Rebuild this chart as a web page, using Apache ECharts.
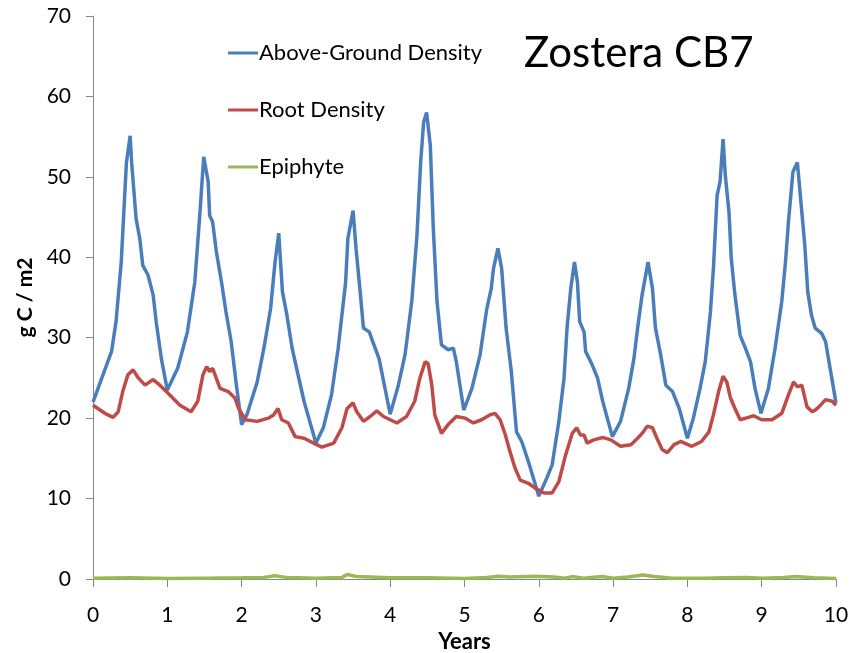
<!DOCTYPE html>
<html>
<head>
<meta charset="utf-8">
<script src="https://cdn.jsdelivr.net/npm/echarts@6/dist/echarts.min.js"></script>
<style>
  html, body { margin: 0; padding: 0; background: #fff; }
  #chart { width: 864px; height: 653px; }
</style>
</head>
<body>
<div id="chart"></div>
<script>
// [year, g C / m2]
const aboveGround = [
  [0, 22], [0.25, 28.3], [0.31, 32], [0.38, 39.4], [0.45, 51.8], [0.5, 55.1], [0.52, 51.8],
  [0.58, 44.8], [0.63, 42.3], [0.67, 39], [0.74, 37.8], [0.81, 35.3], [0.85, 32], [0.92, 27.4],
  [1.0, 23.5], [1.14, 26.2], [1.27, 30.7], [1.37, 36.9], [1.44, 45.6], [1.49, 52.5], [1.55, 49.4],
  [1.57, 45.2], [1.61, 44.4], [1.66, 40.7], [1.73, 36.9], [1.79, 33.2], [1.86, 29.5], [1.93, 24.1],
  [2.0, 19.2], [2.07, 20.4], [2.21, 24.5], [2.3, 28.7], [2.39, 33.6], [2.45, 39.4], [2.5, 43],
  [2.55, 35.7], [2.61, 32.8], [2.68, 28.7], [2.75, 25.8], [2.84, 22.1], [3.0, 16.9], [3.1, 18.8],
  [3.21, 22.9], [3.3, 28.7], [3.4, 36.9], [3.43, 42.3], [3.5, 45.8], [3.54, 41.1], [3.6, 35.3],
  [3.64, 31.2], [3.72, 30.7], [3.75, 29.9], [3.85, 27.4], [3.93, 23.7], [4.0, 20.5], [4.11, 24.1],
  [4.2, 27.9], [4.29, 34.5], [4.36, 42.7], [4.41, 51.8], [4.45, 56.8], [4.49, 58], [4.54, 53.9],
  [4.58, 43.6], [4.63, 34.5], [4.69, 29.1], [4.78, 28.5], [4.85, 28.7], [4.89, 27], [4.99, 21],
  [5.1, 23.7], [5.21, 27.9], [5.3, 33.6], [5.36, 36.1], [5.39, 38.6], [5.45, 41.1], [5.5, 38.6],
  [5.56, 31.2], [5.63, 25.8], [5.7, 18.3], [5.77, 17.1], [5.86, 14.6], [6.0, 10.3], [6.11, 12.6],
  [6.18, 14.2], [6.27, 19.6], [6.34, 25], [6.38, 31.2], [6.43, 36.1], [6.48, 39.4], [6.52, 36.9],
  [6.55, 32], [6.61, 30.7], [6.63, 28.3], [6.72, 26.6], [6.79, 25], [6.86, 22.1], [6.99, 17.7],
  [7.1, 19.6], [7.21, 23.7], [7.28, 27.4], [7.33, 31.2], [7.39, 35.3], [7.47, 39.4], [7.53, 36.1],
  [7.57, 31.2], [7.64, 27.9], [7.71, 24.1], [7.8, 23.3], [7.89, 21.2], [8.0, 17.5], [8.08, 20],
  [8.17, 23.7], [8.24, 27], [8.31, 33.2], [8.35, 38.6], [8.4, 47.7], [8.44, 49.4], [8.48, 54.7],
  [8.51, 50.2], [8.56, 45.6], [8.59, 39.9], [8.64, 35.3], [8.71, 30.3], [8.78, 28.7], [8.85, 27],
  [8.91, 23.7], [8.99, 20.6], [9.09, 23.7], [9.18, 28.7], [9.27, 34.5], [9.32, 39.4], [9.36, 44.4],
  [9.42, 50.6], [9.48, 51.8], [9.52, 47.7], [9.58, 41.5], [9.62, 35.7], [9.67, 32.8], [9.72, 31.2],
  [9.81, 30.5], [9.86, 29.5], [10, 21.9]
];

const rootDensity = [
  [0, 21.6], [0.16, 20.6], [0.27, 20.1], [0.34, 20.8], [0.4, 23.3], [0.47, 25.4], [0.54, 26],
  [0.61, 25], [0.7, 24.1], [0.81, 24.8], [0.9, 24.1], [1.01, 23.1], [1.17, 21.6], [1.32, 20.8],
  [1.41, 22.1], [1.48, 25.4], [1.53, 26.4], [1.57, 25.8], [1.61, 26.2], [1.71, 23.7], [1.82, 23.3],
  [1.91, 22.5], [1.96, 21.2], [2.05, 19.8], [2.21, 19.6], [2.36, 20], [2.43, 20.4], [2.49, 21.2],
  [2.54, 19.8], [2.63, 19.4], [2.72, 17.7], [2.84, 17.5], [2.97, 16.9], [3.08, 16.4], [3.24, 16.9],
  [3.35, 18.8], [3.42, 21.2], [3.5, 21.9], [3.55, 20.8], [3.64, 19.6], [3.73, 20.2], [3.82, 20.9],
  [3.91, 20.2], [4.0, 19.8], [4.09, 19.4], [4.22, 20.2], [4.33, 22.1], [4.4, 25], [4.47, 27],
  [4.51, 26.8], [4.56, 24.1], [4.6, 20.4], [4.69, 18.1], [4.78, 19.2], [4.89, 20.2], [5.01, 20],
  [5.12, 19.4], [5.23, 19.8], [5.34, 20.4], [5.41, 20.6], [5.48, 19.8], [5.55, 17.9], [5.61, 15.9],
  [5.68, 13.8], [5.75, 12.3], [5.86, 11.9], [5.95, 11.3], [6.07, 10.7], [6.18, 10.7], [6.27, 12.1],
  [6.36, 15.4], [6.45, 18.1], [6.51, 18.8], [6.56, 17.9], [6.61, 17.9], [6.65, 16.9], [6.74, 17.3],
  [6.86, 17.6], [6.97, 17.3], [7.1, 16.5], [7.24, 16.7], [7.33, 17.5], [7.39, 18.1], [7.46, 19],
  [7.53, 18.8], [7.59, 17.5], [7.66, 16.1], [7.73, 15.7], [7.82, 16.7], [7.91, 17.1], [8.06, 16.5],
  [8.19, 17.1], [8.29, 18.3], [8.35, 20.4], [8.42, 23.3], [8.48, 25.2], [8.53, 24.5], [8.58, 22.5],
  [8.64, 21.2], [8.71, 19.8], [8.82, 20.1], [8.89, 20.3], [9.0, 19.8], [9.14, 19.8], [9.27, 20.6],
  [9.36, 22.9], [9.43, 24.5], [9.48, 23.9], [9.54, 24.1], [9.61, 21.4], [9.68, 20.8], [9.72, 21],
  [9.77, 21.4], [9.86, 22.3], [9.95, 22.1], [10, 21.6]
];

const epiphyte = [
  [0, 0.1], [0.5, 0.15], [1, 0.05], [1.5, 0.1], [2, 0.15], [2.3, 0.2], [2.45, 0.4], [2.6, 0.2],
  [3, 0.1], [3.35, 0.2], [3.42, 0.55], [3.55, 0.3], [4, 0.15], [4.5, 0.15], [5, 0.05], [5.3, 0.2],
  [5.45, 0.35], [5.6, 0.25], [5.95, 0.35], [6.2, 0.25], [6.35, 0.1], [6.45, 0.3], [6.6, 0.1],
  [6.85, 0.3], [7, 0.1], [7.2, 0.25], [7.4, 0.5], [7.55, 0.3], [7.8, 0.1], [8.2, 0.1], [8.5, 0.15],
  [8.8, 0.2], [9, 0.1], [9.3, 0.2], [9.45, 0.3], [9.7, 0.15], [10, 0.05]
];

const seriesNames = ["Above-Ground Density", "Root Density", "Epiphyte"];
const chartTitle = "Zostera CB7";

let myChart = echarts.init(document.getElementById("chart"));
const font = "Lato, 'Open Sans', sans-serif";
const axisGrey = "#868686";

var options = {
  animation: false,
  backgroundColor: "#fff",
  textStyle: { fontFamily: font },
  title: {
    text: chartTitle,
    left: 524,
    top: 32,
    padding: 0,
    textStyle: { fontSize: 42, fontWeight: "normal", color: "#000", fontFamily: font },
  },
  legend: {
    orient: "vertical",
    left: 228,
    top: 42,
    padding: 0,
    itemGap: 35,
    itemWidth: 30,
    itemHeight: 3,
    icon: "rect",
    data: seriesNames,
    textStyle: { fontSize: 22, color: "#000", padding: [0, 0, 0, -4] },
  },
  grid: {
    left: 93,
    right: 28,
    top: 16,
    bottom: 74,
    containLabel: false,
    outerBoundsMode: "none",
  },
  xAxis: {
    type: "value",
    min: 0,
    max: 10,
    interval: 1,
    name: "Years",
    nameLocation: "middle",
    nameGap: 52,
    nameTextStyle: { fontSize: 22, fontWeight: "bold", color: "#000" },
    axisLine: { lineStyle: { color: axisGrey, width: 1 } },
    axisTick: { length: 8, lineStyle: { color: axisGrey } },
    axisLabel: { fontSize: 21, color: "#000", margin: 26 },
    splitLine: { show: false },
  },
  yAxis: {
    type: "value",
    min: 0,
    max: 70,
    interval: 10,
    name: "g C / m2",
    nameLocation: "middle",
    nameGap: 50,
    nameTextStyle: { fontSize: 21, fontWeight: "bold", color: "#000" },
    axisLine: { show: true, lineStyle: { color: axisGrey, width: 1 } },
    axisTick: { show: true, length: 7, lineStyle: { color: axisGrey } },
    axisLabel: { fontSize: 21, color: "#000", margin: 22 },
    splitLine: { show: false },
  },
  series: [
    {
      name: seriesNames[0],
      type: "line",
      data: aboveGround,
      showSymbol: false,
      color: "#4a7ebb",
      lineStyle: { width: 3.5, color: "#4a7ebb" },
    },
    {
      name: seriesNames[1],
      type: "line",
      data: rootDensity,
      showSymbol: false,
      color: "#be4b48",
      lineStyle: { width: 3.5, color: "#be4b48" },
    },
    {
      name: seriesNames[2],
      type: "line",
      data: epiphyte,
      showSymbol: false,
      color: "#98b954",
      lineStyle: { width: 3.5, color: "#98b954" },
    },
  ],
};
myChart.setOption(options);
</script>
</body>
</html>
